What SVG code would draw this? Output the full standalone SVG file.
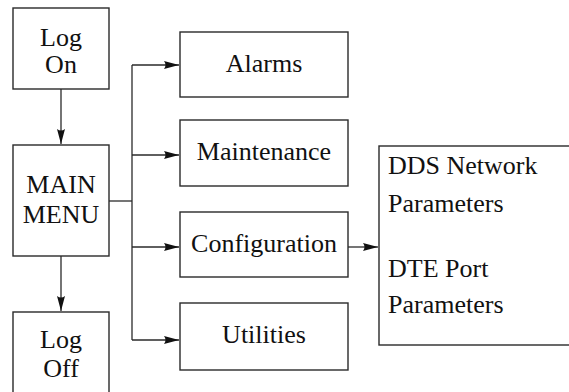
<svg xmlns="http://www.w3.org/2000/svg" width="569" height="392" viewBox="0 0 569 392">
<style>
.box{fill:#fff;stroke:#2a2a2a;stroke-width:1.4}
text{font-family:'Liberation Serif',serif !important;font-size:26px;fill:#111}
.c{text-anchor:middle}
.ln{fill:none;stroke:#2a2a2a;stroke-width:1.3}
</style>
<defs>
<marker id="ah" markerUnits="userSpaceOnUse" markerWidth="16" markerHeight="10" viewBox="0 0 16 10" refX="15" refY="5" orient="auto">
<path d="M0,1 L15,5 L0,9 Q3,5 0,1 z" fill="#111"/>
</marker>
</defs>
<rect width="569" height="392" fill="#fff"/>
<g id="connectors">
<line class="ln" x1="61" y1="89" x2="61" y2="144" marker-end="url(#ah)"/>
<line class="ln" x1="61" y1="256" x2="61" y2="311" marker-end="url(#ah)"/>
<polyline class="ln" points="109,201 132,201"/>
<line class="ln" x1="132" y1="65" x2="132" y2="340"/>
<line class="ln" x1="132" y1="65" x2="179" y2="65" marker-end="url(#ah)"/>
<line class="ln" x1="132" y1="155" x2="179" y2="155" marker-end="url(#ah)"/>
<line class="ln" x1="132" y1="247" x2="179" y2="247" marker-end="url(#ah)"/>
<line class="ln" x1="132" y1="340" x2="179" y2="340" marker-end="url(#ah)"/>
<line class="ln" x1="348" y1="247" x2="378" y2="247" marker-end="url(#ah)"/>
</g>
<g id="logon">
<rect class="box" x="13" y="8" width="96" height="81"/>
<text class="c" x="61" y="46">Log</text>
<text class="c" x="61" y="73">On</text>
</g>
<g id="mainmenu">
<rect class="box" x="13" y="145" width="96" height="111"/>
<text class="c" x="61" y="193">MAIN</text>
<text class="c" x="61" y="223">MENU</text>
</g>
<g id="logoff">
<rect class="box" x="13" y="312" width="96" height="90"/>
<text class="c" x="61" y="348">Log</text>
<text class="c" x="61" y="377">Off</text>
</g>
<g id="alarms">
<rect class="box" x="180" y="32" width="168" height="65"/>
<text class="c" x="264" y="72">Alarms</text>
</g>
<g id="maintenance">
<rect class="box" x="180" y="120" width="168" height="66"/>
<text class="c" x="264" y="160">Maintenance</text>
</g>
<g id="configuration">
<rect class="box" x="180" y="212" width="168" height="65"/>
<text class="c" x="264" y="252">Configuration</text>
</g>
<g id="utilities">
<rect class="box" x="180" y="303" width="168" height="67"/>
<text class="c" x="264" y="343">Utilities</text>
</g>
<g id="parameters">
<rect class="box" x="379" y="146" width="200" height="199"/>
<text x="388" y="174">DDS Network</text>
<text x="388" y="212">Parameters</text>
<text x="388" y="277">DTE Port</text>
<text x="388" y="313">Parameters</text>
</g>
</svg>
